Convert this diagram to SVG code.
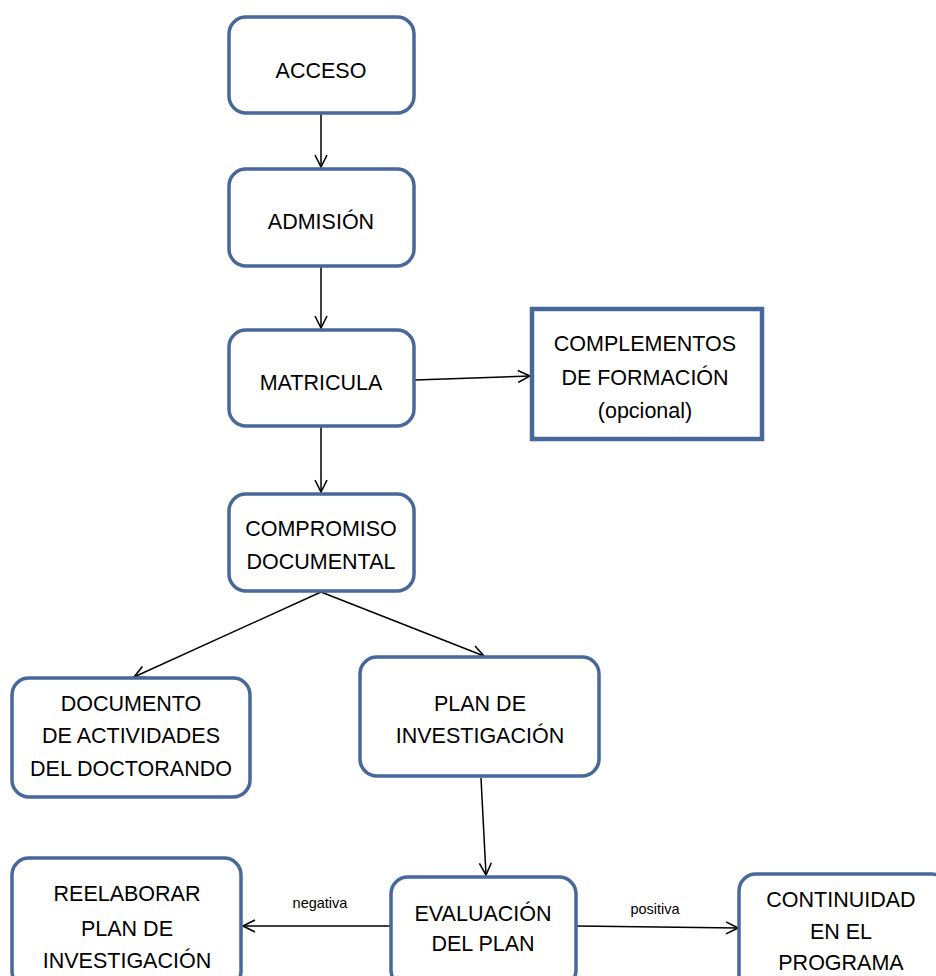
<svg xmlns="http://www.w3.org/2000/svg" width="936" height="976" viewBox="0 0 936 976">
<style>
.box{fill:#fff;stroke:#46689a;stroke-width:3.5}
.sq{fill:#fff;stroke:#46689a;stroke-width:4.5}
.t{font-family:"Liberation Sans",Arial,sans-serif;font-size:21.5px;fill:#000;text-anchor:middle}
.lbl{font-family:"Liberation Sans",Arial,sans-serif;font-size:14.5px;fill:#000;text-anchor:middle}
.c{stroke:#000;stroke-width:1.5;fill:none;marker-end:url(#arr)}
</style>
<defs>
<marker id="arr" viewBox="0 0 14 14" refX="13" refY="7" markerWidth="14" markerHeight="14" markerUnits="userSpaceOnUse" orient="auto">
<polyline points="1,1 13,7 1,13" fill="none" stroke="#000" stroke-width="1.6"/>
</marker>
</defs>
<g id="connectors">
<line class="c" x1="321" y1="114" x2="321" y2="167"/>
<line class="c" x1="321" y1="267" x2="321" y2="328"/>
<line class="c" x1="415" y1="380" x2="530" y2="376"/>
<line class="c" x1="321" y1="427" x2="321" y2="492"/>
<line class="c" x1="321" y1="592" x2="134" y2="677"/>
<line class="c" x1="321" y1="592" x2="484" y2="656"/>
<line class="c" x1="481" y1="778" x2="486" y2="875"/>
<line class="c" x1="390" y1="926" x2="243" y2="926"/>
<line class="c" x1="577" y1="926" x2="738" y2="928"/>
<text class="lbl" x="320" y="908">negativa</text>
<text class="lbl" x="655" y="914">positiva</text>
</g>
<g id="acceso"><rect class="box" x="229" y="17" width="185" height="96" rx="17"/><text class="t" x="321" y="78">ACCESO</text></g>
<g id="admision"><rect class="box" x="229" y="169" width="185" height="97" rx="17"/><text class="t" x="321" y="229">ADMISIÓN</text></g>
<g id="matricula"><rect class="box" x="229" y="330" width="185" height="96" rx="17"/><text class="t" x="321" y="390">MATRICULA</text></g>
<g id="complementos"><rect class="sq" x="532" y="309" width="230" height="130"/><text class="t" x="645" y="351">COMPLEMENTOS</text><text class="t" x="645" y="385">DE FORMACIÓN</text><text class="t" x="645" y="418">(opcional)</text></g>
<g id="compromiso"><rect class="box" x="229" y="494" width="185" height="97" rx="17"/><text class="t" x="321" y="536">COMPROMISO</text><text class="t" x="321" y="569">DOCUMENTAL</text></g>
<g id="documento"><rect class="box" x="12" y="678" width="238" height="119" rx="17"/><text class="t" x="131" y="711">DOCUMENTO</text><text class="t" x="131" y="743">DE ACTIVIDADES</text><text class="t" x="131" y="776">DEL DOCTORANDO</text></g>
<g id="plan"><rect class="box" x="360" y="657" width="239" height="119" rx="17"/><text class="t" x="480" y="711">PLAN DE</text><text class="t" x="480" y="743">INVESTIGACIÓN</text></g>
<g id="reelaborar"><rect class="box" x="12" y="858" width="229" height="130" rx="17"/><text class="t" x="127" y="901">REELABORAR</text><text class="t" x="127" y="936">PLAN DE</text><text class="t" x="127" y="968">INVESTIGACIÓN</text></g>
<g id="evaluacion"><rect class="box" x="391" y="877" width="185" height="110" rx="17"/><text class="t" x="483" y="921">EVALUACIÓN</text><text class="t" x="483" y="951">DEL PLAN</text></g>
<g id="continuidad"><rect class="box" x="739" y="874" width="210" height="120" rx="17"/><text class="t" x="841" y="907">CONTINUIDAD</text><text class="t" x="841" y="939">EN EL</text><text class="t" x="841" y="970">PROGRAMA</text></g>
</svg>
